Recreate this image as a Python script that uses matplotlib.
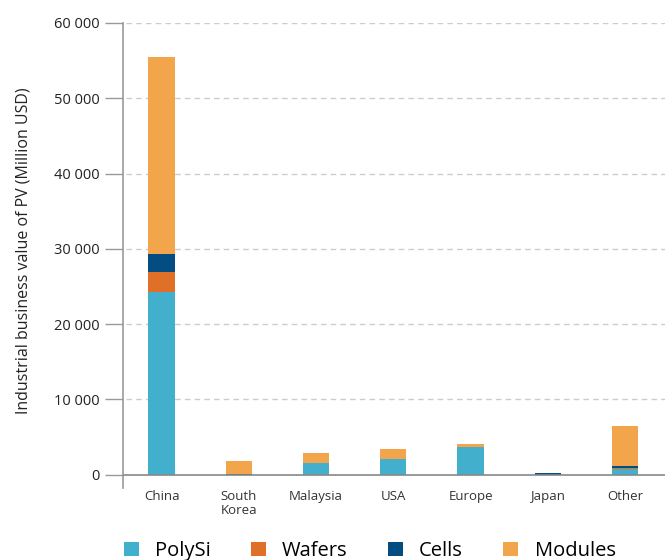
import matplotlib
matplotlib.use("Agg")
import matplotlib.pyplot as plt
from matplotlib.ticker import FuncFormatter
import numpy as np

plt.rcParams['font.family'] = ['Open Sans', 'DejaVu Sans']

categories = ["China", "South\nKorea", "Malaysia", "USA", "Europe", "Japan", "Other"]
polysi  = [24300, 0, 1500, 2120, 3700, 0, 750]
wafers  = [2650, 0, 100, 0, 0, 0, 150]
cells   = [2400, 120, 0, 0, 0, 150, 300]
modules = [26150, 1740, 1320, 1330, 410, 0, 5310]

series = [("PolySi", polysi, "#42b0cc"),
          ("Wafers", wafers, "#e07027"),
          ("Cells", cells, "#044d82"),
          ("Modules", modules, "#f2a54a")]

fig = plt.figure(figsize=(6.72, 5.6), dpi=100)
ax = fig.add_axes([0.183, 0.129, 0.807, 0.830])

x = np.arange(len(categories))
bottom = np.zeros(len(categories))
handles = []
for name, vals, col in series:
    b = ax.bar(x, vals, width=0.34, bottom=bottom, color=col, label=name, zorder=3)
    bottom += np.array(vals)
    handles.append(b)

ax.set_xlim(-0.5, 6.52)
ax.set_ylim(-1750, 60000)
ax.set_yticks(np.arange(0, 60001, 10000))
ax.yaxis.set_major_formatter(FuncFormatter(lambda v, p: f"{int(v):,}".replace(",", " ")))
ax.set_xticks(x)
ax.set_xticklabels(categories, fontsize=9.5, color="#333333", linespacing=1.15)
ax.tick_params(axis='x', length=0, pad=1.5)
ax.tick_params(axis='y', length=13, width=1, color="#999999", labelsize=10.5, labelcolor="#222222", pad=4)

for s in ["top", "right", "bottom"]:
    ax.spines[s].set_visible(False)
ax.spines["left"].set_color("#999999")
ax.spines["left"].set_linewidth(1.2)

for yv in np.arange(10000, 60001, 10000):
    ax.axhline(yv, xmin=0.005, color="#cccccc", linestyle=(0, (4, 3)), linewidth=1, zorder=1)
ax.axhline(0, color="#888888", linewidth=1.2, zorder=4)

ax.set_ylabel("Industrial business value of PV (Million USD)", fontsize=11.5, color="#222222")
ax.yaxis.set_label_coords(-0.169, 0.51)

leg = fig.legend(handles=handles, loc="center", bbox_to_anchor=(0.55, 0.016), ncol=4,
                 frameon=False, fontsize=14.5, handlelength=0.75, handleheight=0.75,
                 columnspacing=2.0, handletextpad=0.8)

fig.savefig("out.png", dpi=100)
